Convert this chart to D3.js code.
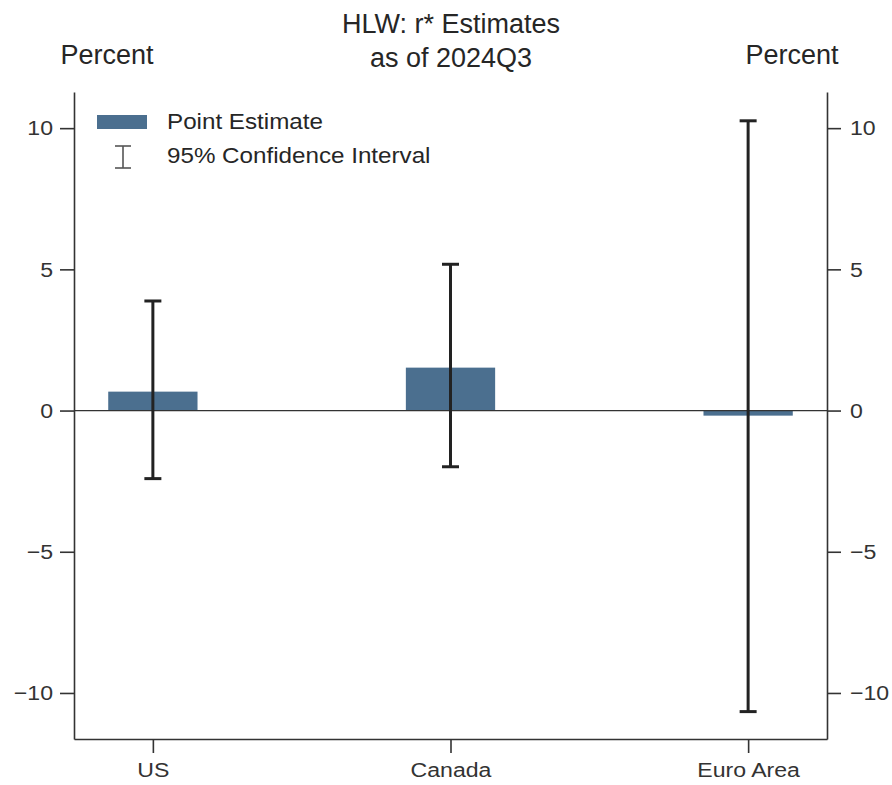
<!DOCTYPE html>
<html>
<head>
<meta charset="utf-8">
<script src="https://cdn.jsdelivr.net/npm/d3@7"></script>
<style>
  body { margin: 0; background: #fff; }
  text { font-family: "Liberation Sans", Arial, sans-serif; fill: #262626; }
</style>
</head>
<body>
<div id="chart"></div>
<script>
// data
var regions = ["US", "Canada", "Euro Area"];
var pointEstimates = [0.67, 1.52, -0.18];
var ciLower = [-2.41, -1.99, -10.66];
var ciUpper = [3.88, 5.18, 10.26];
var yTicks = [-10, -5, 0, 5, 10];

var width = 892, height = 785;
var margin = { top: 92, right: 65, bottom: 46, left: 74 };
var barColor = "#4b6f8f";

var svg = d3.select("#chart").append("svg")
  .attr("width", width).attr("height", height);

var x = d3.scaleLinear().domain([-0.265, 2.265])
  .range([margin.left, width - margin.right]);
var y = d3.scaleLinear().domain([-11.63, 11.28])
  .range([height - margin.bottom, margin.top]);
var barW = x(0.3) - x(0);

// widen text a bit around its anchor point (reference glyphs are wider)
function stretch(sel, s) {
  sel.each(function() {
    var t = d3.select(this);
    var tx = +t.attr("x") || 0, ty = +t.attr("y") || 0;
    t.attr("transform", "translate(" + tx + "," + ty + ") scale(" + s + ",1) translate(" + (-tx) + "," + (-ty) + ")");
  });
}

// bars
svg.selectAll("rect.bar").data(regions).enter().append("rect")
  .attr("class", "bar")
  .attr("x", function(d, i) { return x(i) - barW / 2; })
  .attr("y", function(d, i) { return y(Math.max(0, pointEstimates[i])); })
  .attr("width", barW)
  .attr("height", function(d, i) { return Math.abs(y(pointEstimates[i]) - y(0)); })
  .style("fill", barColor);

// zero line
svg.append("line")
  .attr("x1", x.range()[0]).attr("x2", x.range()[1])
  .attr("y1", y(0)).attr("y2", y(0))
  .style("stroke", "#333").style("stroke-width", 1.2);

// error bars
var errs = svg.selectAll("g.err").data(regions).enter().append("g")
  .attr("class", "err")
  .style("stroke", "#222").style("stroke-width", 3);
errs.append("line")
  .attr("x1", function(d, i) { return x(i); })
  .attr("x2", function(d, i) { return x(i); })
  .attr("y1", function(d, i) { return y(ciLower[i]); })
  .attr("y2", function(d, i) { return y(ciUpper[i]); });
errs.append("line")
  .attr("x1", function(d, i) { return x(i) - 8.5; })
  .attr("x2", function(d, i) { return x(i) + 8.5; })
  .attr("y1", function(d, i) { return y(ciUpper[i]); })
  .attr("y2", function(d, i) { return y(ciUpper[i]); });
errs.append("line")
  .attr("x1", function(d, i) { return x(i) - 8.5; })
  .attr("x2", function(d, i) { return x(i) + 8.5; })
  .attr("y1", function(d, i) { return y(ciLower[i]); })
  .attr("y2", function(d, i) { return y(ciLower[i]); });

// axes
function styleAxis(g) {
  g.selectAll("path, line").style("stroke", "#333").style("stroke-width", 1.6);
  g.selectAll("text").style("font-size", "21px").style("fill", "#333").call(stretch, 1.1);
}
var fmt = function(d) { return d < 0 ? "\u2212" + Math.abs(d) : d; };

svg.append("g")
  .attr("transform", "translate(" + margin.left + ",0)")
  .call(d3.axisLeft(y).tickValues(yTicks).tickFormat(fmt).tickSize(14).tickSizeOuter(0).tickPadding(7))
  .call(styleAxis);
svg.append("g")
  .attr("transform", "translate(" + (width - margin.right) + ",0)")
  .call(d3.axisRight(y).tickValues(yTicks).tickFormat(fmt).tickSize(14).tickSizeOuter(0).tickPadding(9))
  .call(styleAxis);
svg.append("g")
  .attr("transform", "translate(0," + (height - margin.bottom) + ")")
  .call(d3.axisBottom(x).tickValues([0, 1, 2])
    .tickFormat(function(d) { return regions[d]; })
    .tickSize(14).tickSizeOuter(0).tickPadding(9))
  .call(styleAxis);

// titles
svg.append("text").attr("x", 451).attr("y", 33)
  .attr("text-anchor", "middle").style("font-size", "27px")
  .text("HLW: r* Estimates");
svg.append("text").attr("x", 451).attr("y", 67)
  .attr("text-anchor", "middle").style("font-size", "27px")
  .text("as of 2024Q3");
svg.append("text").attr("x", 107).attr("y", 64)
  .attr("text-anchor", "middle").style("font-size", "27px")
  .text("Percent");
svg.append("text").attr("x", 792).attr("y", 64)
  .attr("text-anchor", "middle").style("font-size", "27px")
  .text("Percent");

// legend
var legend = svg.append("g");
legend.append("rect")
  .attr("x", 97).attr("y", 115).attr("width", 50).attr("height", 14)
  .style("fill", barColor);
legend.append("text").attr("x", 167).attr("y", 129)
  .style("font-size", "22px").text("Point Estimate");
var icon = legend.append("g").style("stroke", "#555").style("stroke-width", 1.6);
icon.append("line").attr("x1", 123).attr("x2", 123).attr("y1", 146).attr("y2", 168);
icon.append("line").attr("x1", 115).attr("x2", 131).attr("y1", 146).attr("y2", 146);
icon.append("line").attr("x1", 115).attr("x2", 131).attr("y1", 168).attr("y2", 168);
legend.append("text").attr("x", 167).attr("y", 163)
  .style("font-size", "22px").text("95% Confidence Interval");
legend.selectAll("text").call(stretch, 1.1);
</script>
</body>
</html>
